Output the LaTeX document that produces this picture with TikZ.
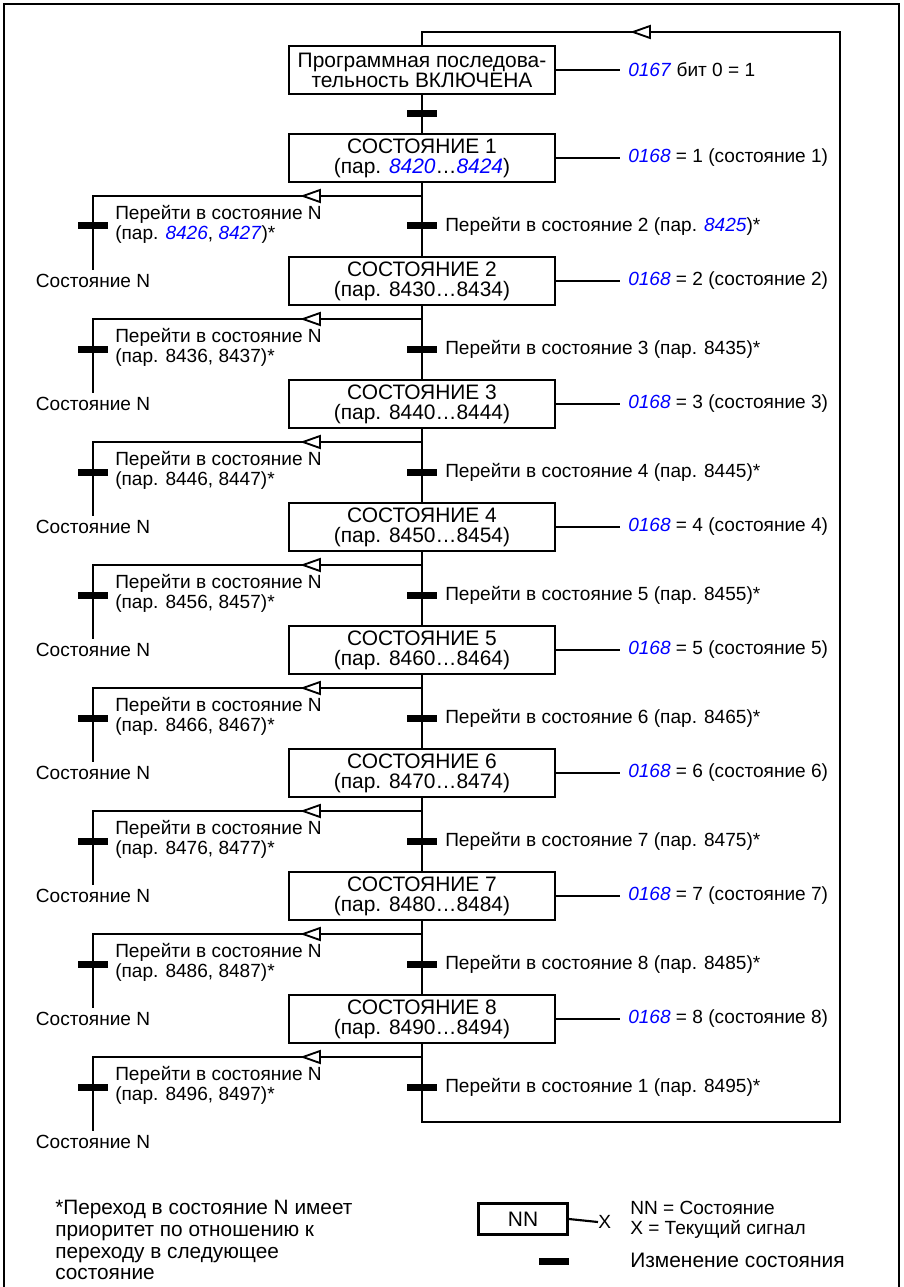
\documentclass[tikz,border=0pt]{standalone}
\usepackage{fontspec}
\setmainfont{Liberation Sans}
\usetikzlibrary{calc}
\definecolor{parblue}{RGB}{0,0,255}
\newcommand{\pbl}[1]{\textcolor{parblue}{\textit{#1}}}
\newcommand{\mainfs}{\fontsize{14.3pt}{15pt}\selectfont}
\newcommand{\boxfs}{\fontsize{15.7pt}{15pt}\selectfont}
\newcommand{\footfs}{\fontsize{15.6pt}{16.3pt}\selectfont}
\begin{document}
\begin{tikzpicture}[x=0.75pt,y=-0.75pt,
  conn/.style={line width=2.2pt},
  frameline/.style={line width=0.9pt},
  statebox/.style={draw,line width=2.2pt,minimum width=199.5pt,minimum height=36pt,inner sep=0pt,align=center,font=\boxfs},
  txt/.style={inner sep=0pt,font=\mainfs,align=left},
  chbar/.style={fill=black,draw=none,minimum width=22.5pt,minimum height=5.25pt,inner sep=0pt},
  opentri/.style={draw,fill=white,line width=1.4pt,line join=miter}]
\useasboundingbox (0,0) rectangle (903,1287);
\draw[frameline] (4,1287) -- (4,4) -- (899,4) -- (899,1287);

\node[statebox] (st) at (422,70) {Программная последова-\\тельность ВКЛЮЧЕНА};
\node[txt,anchor=west] (sig0) at (628,70) {\pbl{0167} бит 0 = 1};
\draw[conn] (st.east) -- ([xshift=-6pt]sig0.west);

\foreach \k in {1,...,8}{
  \pgfmathsetmacro{\yb}{182+123*(\k-1)}
  \pgfmathsetmacro{\yc}{\yb-24}
  \pgfmathtruncatemacro{\dd}{\k+1}
  \pgfmathtruncatemacro{\nx}{mod(\k,8)+1}
  \ifnum\k=1
    \def\prange{\pbl{8420}…\pbl{8424}}\def\lpar{\pbl{8426}, \pbl{8427}}\def\tpar{\pbl{8425}}
  \else
    \def\prange{84\dd0…84\dd4}\def\lpar{84\dd6, 84\dd7}\def\tpar{84\dd5}
  \fi
  \node[statebox] (s\k) at (422,\yc) {СОСТОЯНИЕ \k\\(пар. \prange)};
  \node[txt,anchor=west] (sig\k) at (628,\yc) {\pbl{0168} = \k\ (состояние \k)};
  \draw[conn] (s\k.east) -- ([xshift=-6pt]sig\k.west);
  \coordinate (j\k) at (422,\yb+14);
  \coordinate (c\k) at (93,\yb+14);
  \node[chbar] (b\k) at (422,\yb+44) {};
  \node[txt,anchor=west] (t\k) at (445,\yb+44) {Перейти в состояние \nx\ (пар. \tpar)*};
  \node[txt,anchor=north] (sn\k) at (93,\yb+92) {Состояние N};
  \draw[conn] (j\k) -- (c\k) -- ([yshift=3pt]sn\k.north);
  \node[chbar] (lb\k) at (93,\yb+44) {};
  \node[txt,anchor=west] (lt\k) at (115,\yb+42.5) {Перейти в состояние N\\(пар. \lpar)*};
  \draw[opentri] (303,\yb+14) -- ++(17,-6) -- ++(0,12) -- cycle;
}

\draw[conn] (st.south) -- (s1.north);
\node[chbar] (b0) at (422,114) {};
\foreach \k [evaluate=\k as \nx using int(\k+1)] in {1,...,7}{
  \draw[conn] (s\k.south) -- (s\nx.north);
}
\coordinate (bl) at (422,1122);
\coordinate (br) at (840,1122);
\coordinate (tr) at (840,32);
\coordinate (tl) at (422,32);
\draw[conn,line join=miter] (s8.south) -- (bl) -- (br) -- (tr) -- (tl) -- (st.north);
\draw[opentri] (633,32) -- ++(17,-6) -- ++(0,12) -- cycle;

% footnote
\node[txt,anchor=north west,font=\footfs] (fn) at (55,1200) {*Переход в состояние N имеет\\приоритет по отношению к\\переходу в следующее\\состояние};

% legend
\node[draw,line width=2.2pt,minimum width=66.75pt,minimum height=23.25pt,inner sep=0pt,font=\boxfs] (nn) at (523,1219) {NN};
\node[txt,anchor=west] (lx) at (598,1222) {X};
\draw[line width=1.6pt] (nn.east) -- (lx.west);
\node[txt,anchor=west] (leg1) at (630,1220) {NN = Состояние\\X = Текущий сигнал};
\node[chbar] (legbar) at (554,1261) {};
\node[txt,anchor=west,font=\boxfs] (leg2) at (630,1260) {Изменение состояния};
\end{tikzpicture}
\end{document}
